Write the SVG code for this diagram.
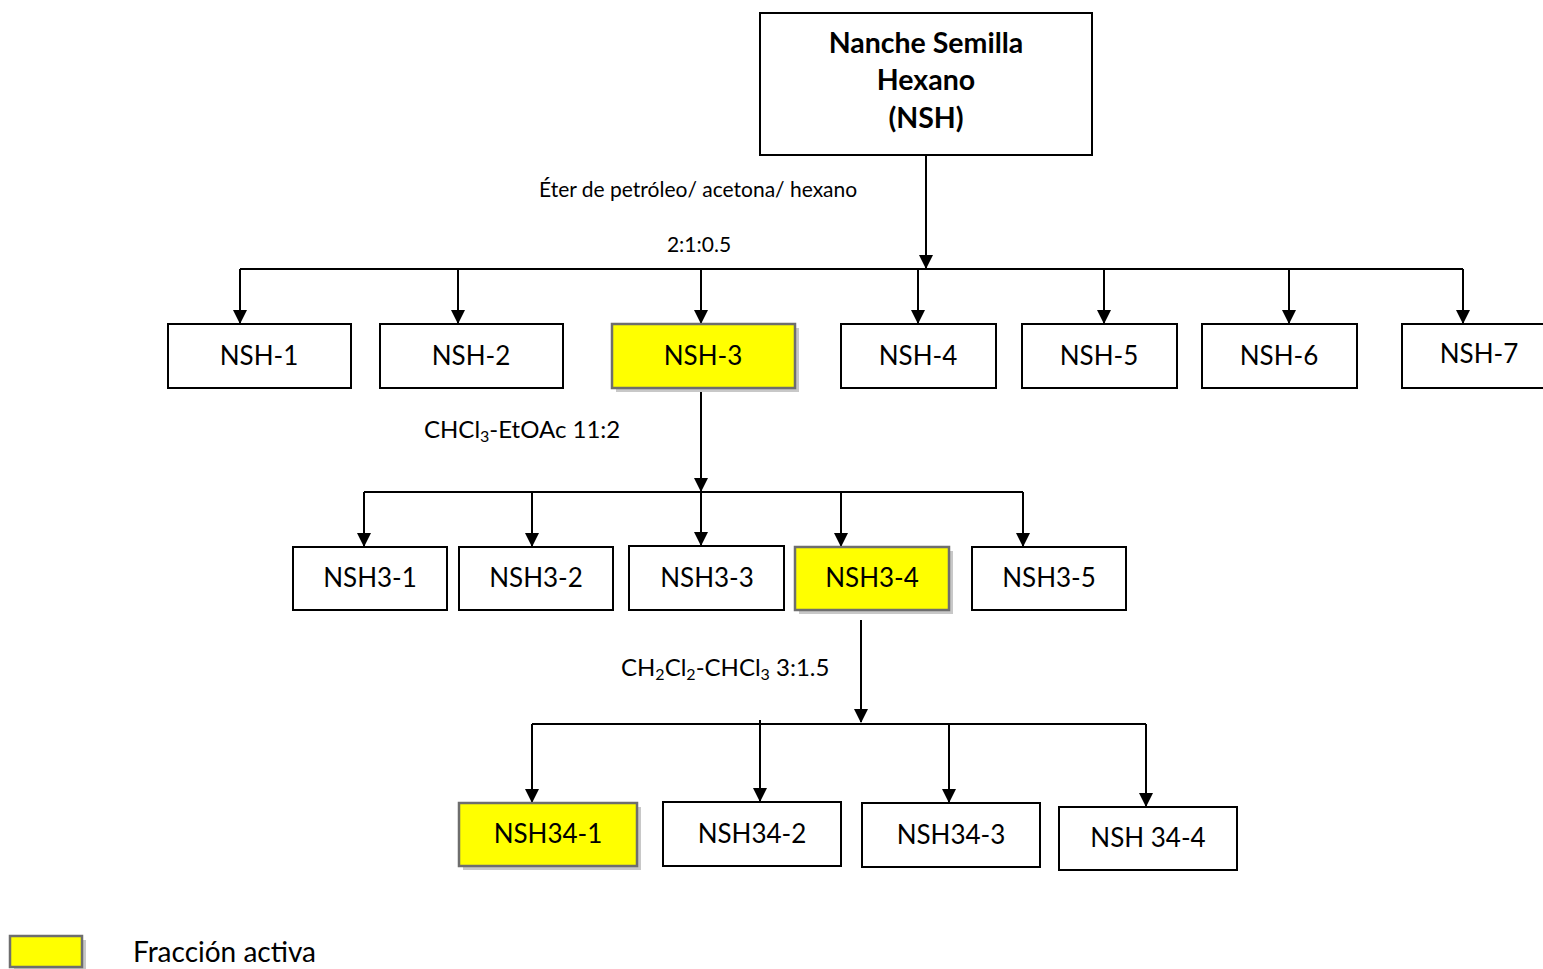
<svg xmlns="http://www.w3.org/2000/svg" width="1543" height="969" viewBox="0 0 1543 969">
  <defs>
    <marker id="arr" viewBox="0 0 14 14" refX="13" refY="7" markerWidth="14" markerHeight="14" markerUnits="userSpaceOnUse" orient="auto">
      <path d="M0,0 L14,7 L0,14 Z" fill="#000"/>
    </marker>
    <style>
      .box{fill:#fff;stroke:#000;stroke-width:2}
      .act{fill:#ffff00;stroke:#6e6e6e;stroke-width:2.5}
      .shd{fill:#c8c8c8}
      .lbl{font-family:Lato,"Liberation Sans",sans-serif;font-size:26px;fill:#000;text-anchor:middle;dominant-baseline:central}
      .note{font-family:Lato,"Liberation Sans",sans-serif;font-size:21px;fill:#000}
      .ttl{font-family:Lato,"Liberation Sans",sans-serif;font-size:28.5px;font-weight:bold;fill:#000;text-anchor:middle}
      .ln{stroke:#000;stroke-width:2;fill:none}
      .ar{stroke:#000;stroke-width:2;fill:none;marker-end:url(#arr)}
    </style>
  </defs>
  <rect width="1543" height="969" fill="#fff"/>

  <!-- connectors -->
  <g id="connectors">
    <path class="ar" d="M926,155 V268"/>
    <path class="ln" d="M240,269 H1463"/>
    <path class="ar" d="M240,269 V323"/>
    <path class="ar" d="M458,269 V323"/>
    <path class="ar" d="M701,269 V323"/>
    <path class="ar" d="M918,269 V323"/>
    <path class="ar" d="M1104,269 V323"/>
    <path class="ar" d="M1289,269 V323"/>
    <path class="ar" d="M1463,269 V323"/>

    <path class="ar" d="M701,391 V491"/>
    <path class="ln" d="M364,492 H1023"/>
    <path class="ar" d="M364,492 V546"/>
    <path class="ar" d="M532,492 V546"/>
    <path class="ar" d="M701,492 V545"/>
    <path class="ar" d="M841,492 V546"/>
    <path class="ar" d="M1023,492 V546"/>

    <path class="ar" d="M861,620 V722"/>
    <path class="ln" d="M532,724 H1146"/>
    <path class="ar" d="M532,724 V802"/>
    <path class="ar" d="M760,720 V801"/>
    <path class="ar" d="M949,724 V802"/>
    <path class="ar" d="M1146,724 V806"/>
  </g>

  <!-- edge labels -->
  <text class="note" x="539" y="197">Éter de petróleo/ acetona/ hexano</text>
  <text class="note" x="699" y="252" text-anchor="middle">2:1:0.5</text>
  <text class="note" x="424" y="438" style="font-size:24px">CHCl<tspan font-size="16" dy="4">3</tspan><tspan dy="-4">-EtOAc 11:2</tspan></text>
  <text class="note" x="621" y="676" style="font-size:24px">CH<tspan font-size="16" dy="4">2</tspan><tspan dy="-4">Cl</tspan><tspan font-size="16" dy="4">2</tspan><tspan dy="-4">-CHCl</tspan><tspan font-size="16" dy="4">3</tspan><tspan dy="-4"> 3:1.5</tspan></text>

  <!-- root -->
  <g id="NSH">
    <rect class="box" x="760" y="13" width="332" height="142"/>
    <text class="ttl" x="926" y="53">Nanche Semilla</text>
    <text class="ttl" x="926" y="90">Hexano</text>
    <text class="ttl" x="926" y="128">(NSH)</text>
  </g>

  <!-- first fractionation -->
  <g id="NSH-1"><rect class="box" x="168" y="324" width="183" height="64"/><text class="lbl" x="259" y="355">NSH-1</text></g>
  <g id="NSH-2"><rect class="box" x="380" y="324" width="183" height="64"/><text class="lbl" x="471" y="355">NSH-2</text></g>
  <g id="NSH-3"><rect class="shd" x="616" y="328" width="183" height="64"/><rect class="act" x="612" y="324" width="183" height="64"/><text class="lbl" x="703" y="355">NSH-3</text></g>
  <g id="NSH-4"><rect class="box" x="841" y="324" width="155" height="64"/><text class="lbl" x="918" y="355">NSH-4</text></g>
  <g id="NSH-5"><rect class="box" x="1022" y="324" width="155" height="64"/><text class="lbl" x="1099" y="355">NSH-5</text></g>
  <g id="NSH-6"><rect class="box" x="1202" y="324" width="155" height="64"/><text class="lbl" x="1279" y="355">NSH-6</text></g>
  <g id="NSH-7"><rect class="box" x="1402" y="324" width="155" height="64"/><text class="lbl" x="1479" y="353">NSH-7</text></g>

  <!-- second fractionation -->
  <g id="NSH3-1"><rect class="box" x="293" y="547" width="154" height="63"/><text class="lbl" x="370" y="577">NSH3-1</text></g>
  <g id="NSH3-2"><rect class="box" x="459" y="547" width="154" height="63"/><text class="lbl" x="536" y="577">NSH3-2</text></g>
  <g id="NSH3-3"><rect class="box" x="629" y="546" width="155" height="64"/><text class="lbl" x="707" y="577">NSH3-3</text></g>
  <g id="NSH3-4"><rect class="shd" x="799" y="551" width="154" height="63"/><rect class="act" x="795" y="547" width="154" height="63"/><text class="lbl" x="872" y="577">NSH3-4</text></g>
  <g id="NSH3-5"><rect class="box" x="972" y="547" width="154" height="63"/><text class="lbl" x="1049" y="577">NSH3-5</text></g>

  <!-- third fractionation -->
  <g id="NSH34-1"><rect class="shd" x="463" y="807" width="178" height="63"/><rect class="act" x="459" y="803" width="178" height="63"/><text class="lbl" x="548" y="833">NSH34-1</text></g>
  <g id="NSH34-2"><rect class="box" x="663" y="802" width="178" height="64"/><text class="lbl" x="752" y="833">NSH34-2</text></g>
  <g id="NSH34-3"><rect class="box" x="862" y="803" width="178" height="64"/><text class="lbl" x="951" y="834">NSH34-3</text></g>
  <g id="NSH34-4"><rect class="box" x="1059" y="807" width="178" height="63"/><text class="lbl" x="1148" y="837">NSH 34-4</text></g>

  <!-- legend -->
  <g id="legend">
    <rect class="shd" x="14" y="940" width="72" height="31"/>
    <rect class="act" x="10" y="936" width="72" height="31"/>
    <text class="note" x="133" y="962" style="font-size:28px">Fracción activa</text>
  </g>
</svg>
